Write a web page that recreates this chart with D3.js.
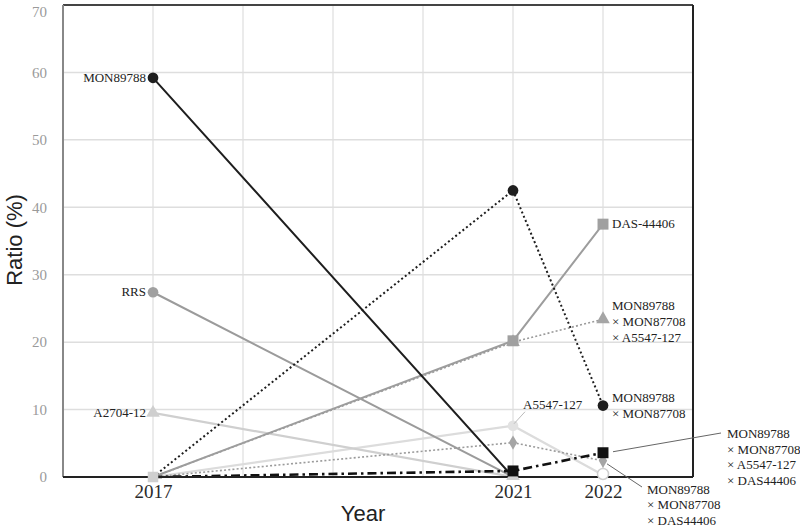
<!DOCTYPE html>
<html><head><meta charset="utf-8">
<script src="https://cdn.jsdelivr.net/npm/d3@7"></script>
<style>body{margin:0;background:#fff}svg{display:block}</style>
</head><body>
<svg id="c" width="800" height="527"></svg>
<script>
const years = [2017, 2021, 2022];
const yTicks = [0, 10, 20, 30, 40, 50, 60, 70];
const mon89788 = [59.2, 0, 0];
const rrs = [27.4, 0, 0];
const a2704 = [9.5, 0, 0];
const monXmon = [0, 42.5, 10.6];
const das44406 = [0, 20.2, 37.5];
const monXmonXa5547 = [0, 20.0, 23.4];
const a5547 = [0, 7.6, 0.3];
const monXmonXdas = [0, 5.1, 2.4];
const monXmonXa5547Xdas = [0, 0.9, 3.6];

const series = [
  {name: "A5547-127", values: a5547, color: "#dcdcdc", width: 2.2, dash: null, marker: "circle", mcolor: "#e2e2e2"},
  {name: "A2704-12", values: a2704, color: "#cfcfcf", width: 2.2, dash: null, marker: "triangle", mcolor: "#cfcfcf"},
  {name: "RRS", values: rrs, color: "#9b9b9b", width: 2, dash: null, marker: "circle", mcolor: "#a0a0a0"},
  {name: "M×M×DAS", values: monXmonXdas, color: "#9a9a9a", width: 1.6, dash: "2,2.2", marker: "diamond", mcolor: "#a5a5a5"},
  {name: "M×M×A5547", values: monXmonXa5547, color: "#9a9a9a", width: 1.6, dash: "2,2.2", marker: "triangle", mcolor: "#a5a5a5"},
  {name: "DAS-44406", values: das44406, color: "#9d9d9d", width: 2, dash: null, marker: "square", mcolor: "#a0a0a0"},
  {name: "MON89788", values: mon89788, color: "#1e1e1e", width: 2, dash: null, marker: "circle", mcolor: "#1e1e1e"},
  {name: "M×M", values: monXmon, color: "#1e1e1e", width: 2, dash: "2,2.6", marker: "circle", mcolor: "#1e1e1e"},
  {name: "M×M×A×D", values: monXmonXa5547Xdas, color: "#111", width: 2.6, dash: "9,4,2.5,4", marker: "square", mcolor: "#111"}
];

const svg = d3.select("#c");
const L = 63, R = 693, T = 5, B = 477;
const x = d3.scaleLinear().domain([2016, 2023]).range([L, R]);
const y = d3.scaleLinear().domain([0, 70]).range([B, T]);

// grid
const gridYears = d3.range(2017, 2023);
svg.append("g").selectAll("line").data(gridYears).join("line")
  .attr("x1", d => x(d)).attr("x2", d => x(d)).attr("y1", T).attr("y2", B)
  .attr("stroke", "#dedede").attr("stroke-width", 1.2);
svg.append("g").selectAll("line").data(yTicks.slice(1, -1)).join("line")
  .attr("x1", L).attr("x2", R).attr("y1", d => y(d)).attr("y2", d => y(d))
  .attr("stroke", "#dedede").attr("stroke-width", 1.5);

// frame
svg.append("line").attr("x1", L).attr("x2", R).attr("y1", T).attr("y2", T).attr("stroke", "#444").attr("stroke-width", 2);
svg.append("line").attr("x1", R).attr("x2", R).attr("y1", T).attr("y2", B).attr("stroke", "#222").attr("stroke-width", 2);
svg.append("line").attr("x1", L).attr("x2", L).attr("y1", T).attr("y2", B).attr("stroke", "#888").attr("stroke-width", 2);

// y axis labels
const yAxis = d3.axisLeft(y).tickValues(yTicks).tickSize(0).tickPadding(16);
const gy = svg.append("g").attr("transform", `translate(${L},0)`).call(yAxis);
gy.select(".domain").remove();
gy.selectAll("text").attr("font-family", "Liberation Serif, serif").attr("font-size", 15).attr("fill", "#9a9a9a");
gy.selectAll(".tick").filter(d => d === 70).select("text").attr("dy", "0.75em");

// x axis labels
const xAxis = d3.axisBottom(x).tickValues(years).tickFormat(d3.format("d")).tickSize(0).tickPadding(8);
const gx = svg.append("g").attr("transform", `translate(0,${B})`).call(xAxis);
gx.select(".domain").remove();
gx.selectAll("text").attr("font-family", "Liberation Serif, serif").attr("font-size", 19).attr("fill", "#2a2a2a");

// lines
const line = d3.line().x((d, i) => x(years[i])).y(d => y(d));
series.forEach(s => {
  svg.append("path").datum(s.values).attr("d", line)
    .attr("fill", "none").attr("stroke", s.color).attr("stroke-width", s.width)
    .attr("stroke-dasharray", s.dash);
});

// bottom axis line
svg.append("line").attr("x1", L).attr("x2", R).attr("y1", B).attr("y2", B).attr("stroke", "#222").attr("stroke-width", 2.2);

// markers (zero values sit hidden on the axis)
const sym = {circle: d3.symbolCircle, triangle: d3.symbolTriangle, square: d3.symbolSquare, diamond: d3.symbolDiamond};
const size = {circle: 90, triangle: 80, square: 120, diamond: 60};
svg.append("path").attr("d", d3.symbol().type(d3.symbolSquare).size(110)())
  .attr("transform", `translate(${x(2017)},${y(0)})`).attr("fill", "#cfcfcf");
svg.append("path").attr("d", d3.symbol().type(d3.symbolTriangle).size(80)())
  .attr("transform", `translate(${x(2021)},${y(0) - 1})`).attr("fill", "#d0d0d0");
svg.append("circle").attr("cx", x(2022)).attr("cy", y(a5547[2]) - 1).attr("r", 5.5)
  .attr("fill", "#fff").attr("stroke", "#cfcfcf").attr("stroke-width", 1.5);
series.forEach(s => {
  svg.append("g").selectAll("path").data(s.values.map((v, i) => ({v, i})).filter(d => d.v >= 0.5)).join("path")
    .attr("d", d3.symbol().type(sym[s.marker]).size(size[s.marker]))
    .attr("transform", d => `translate(${x(years[d.i])},${y(d.v)})`)
    .attr("fill", s.mcolor);
});

// labels
const lab = svg.append("g").attr("font-family", "Liberation Serif, serif").attr("font-size", 13).attr("fill", "#222");
function txt(t, xx, yy, anchor) {
  lab.append("text").attr("x", xx).attr("y", yy).attr("text-anchor", anchor || "start")
    .attr("dominant-baseline", "middle").text(t);
}
txt("MON89788", x(2017) - 7, y(mon89788[0]) + 1, "end");
txt("RRS", x(2017) - 7, y(rrs[0]) + 1, "end");
txt("A2704-12", x(2017) - 7, y(a2704[0]) + 1, "end");
txt("DAS-44406", x(2022) + 9, y(das44406[2]) + 1);
txt("MON89788", x(2022) + 9, y(monXmonXa5547[2]) - 12);
txt("×  MON87708", x(2022) + 9, y(monXmonXa5547[2]) + 4);
txt("×  A5547-127", x(2022) + 9, y(monXmonXa5547[2]) + 20);
txt("MON89788", x(2022) + 9, y(monXmon[2]) - 7);
txt("× MON87708", x(2022) + 9, y(monXmon[2]) + 9);
txt("A5547-127", x(2021) + 10, y(a5547[1]) - 20);
const lx1 = 727, ly1 = 435;
["MON89788", "× MON87708", "× A5547-127", "× DAS44406"].forEach((t, i) => txt(t, lx1, ly1 + i * 15.7));
const lx2 = 647, ly2 = 491;
["MON89788", "× MON87708", "× DAS44406"].forEach((t, i) => txt(t, lx2, ly2 + i * 15.3));

// leader lines
const ld = svg.append("g").attr("stroke-width", 1);
ld.append("line").attr("x1", x(2021) + 1).attr("y1", y(a5547[1]) - 2).attr("x2", x(2021) + 12).attr("y2", y(a5547[1]) - 14).attr("stroke", "#bbb");
ld.append("line").attr("x1", x(2022) + 10).attr("y1", y(monXmonXa5547Xdas[2]) - 1).attr("x2", lx1 - 6).attr("y2", ly1 - 2).attr("stroke", "#666");
ld.append("line").attr("x1", x(2022) + 4).attr("y1", y(monXmonXdas[2]) + 3).attr("x2", lx2 - 5).attr("y2", ly2 - 4).attr("stroke", "#666");

// titles
svg.append("text").attr("transform", "translate(22,240) rotate(-90)").attr("text-anchor", "middle")
  .attr("font-family", "Liberation Sans, Arial, sans-serif").attr("font-size", 22).attr("fill", "#222").text("Ratio (%)");
svg.append("text").attr("x", 363).attr("y", 521).attr("text-anchor", "middle")
  .attr("font-family", "Liberation Sans, Arial, sans-serif").attr("font-size", 22).attr("fill", "#222").text("Year");
</script>
</body></html>
